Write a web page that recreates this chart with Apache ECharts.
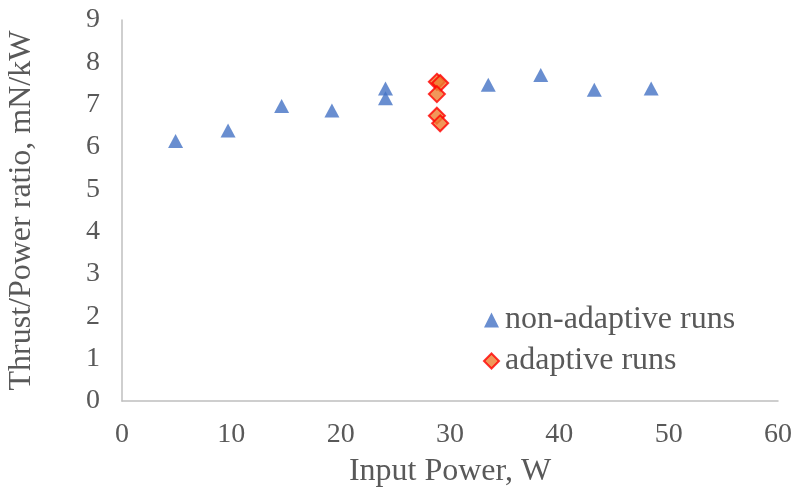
<!DOCTYPE html>
<html>
<head>
<meta charset="utf-8">
<script src="https://cdn.jsdelivr.net/npm/echarts@6/dist/echarts.min.js"></script>
<style>
html, body { margin: 0; padding: 0; background: #fff; }
#chart { width: 793px; height: 496px; }
</style>
</head>
<body>
<div id="chart"></div>
<script>
// values
var nonAdaptivePower = [4.9, 9.7, 14.6, 19.2, 24.1, 24.1, 33.5, 38.3, 43.2, 48.4];
var nonAdaptiveRatio = [6.14, 6.39, 6.97, 6.86, 7.38, 7.15, 7.47, 7.70, 7.35, 7.38];
var adaptivePower = [28.8, 29.1, 28.8, 28.8, 29.1];
var adaptiveRatio = [7.54, 7.51, 7.25, 6.74, 6.56];

var font = 'Liberation Serif';
var textColor = '#595959';

function pairs(xs, ys) {
    var out = [];
    for (var i = 0; i < xs.length; i++) {
        out.push([xs[i], ys[i]]);
    }
    return out;
}

var myChart = echarts.init(document.getElementById('chart'));
var option = {
    animation: false,
    grid: {
        left: 122,
        right: 15,
        top: 20,
        bottom: 95,
        outerBoundsMode: 'none'
    },
    legend: {
        orient: 'vertical',
        left: 478,
        top: 299,
        itemGap: 9,
        itemWidth: 15,
        itemHeight: 15,
        textStyle: { fontFamily: font, fontSize: 32, color: textColor, padding: [0, 0, 0, 1] },
        data: ['non-adaptive runs', 'adaptive runs']
    },
    xAxis: {
        type: 'value',
        min: 0,
        max: 60,
        interval: 10,
        name: 'Input Power, W',
        nameLocation: 'middle',
        nameGap: 55,
        nameTextStyle: { fontFamily: font, fontSize: 32, color: textColor },
        axisLine: { lineStyle: { color: '#bfbfbf', width: 1.5 } },
        axisTick: { show: false },
        splitLine: { show: false },
        axisLabel: { fontFamily: font, fontSize: 28, color: textColor, margin: 20 }
    },
    yAxis: {
        type: 'value',
        min: 0,
        max: 9,
        interval: 1,
        name: 'Thrust/Power ratio, mN/kW',
        nameLocation: 'middle',
        nameRotate: 90,
        nameGap: 84,
        nameTextStyle: { fontFamily: font, fontSize: 32, color: textColor },
        axisLine: { show: true, lineStyle: { color: '#bfbfbf', width: 1.5 } },
        axisTick: { show: false },
        splitLine: { show: false },
        axisLabel: { fontFamily: font, fontSize: 28, color: textColor, margin: 22 }
    },
    series: [
        {
            name: 'non-adaptive runs',
            type: 'scatter',
            symbol: 'triangle',
            symbolSize: [15, 14],
            itemStyle: { color: '#4472c4' },
            data: pairs(nonAdaptivePower, nonAdaptiveRatio)
        },
        {
            name: 'adaptive runs',
            type: 'scatter',
            symbol: 'diamond',
            symbolSize: 16,
            itemStyle: { color: '#ed7d31', borderColor: '#ff0000', borderWidth: 2 },
            data: pairs(adaptivePower, adaptiveRatio)
        }
    ]
};
myChart.setOption(option);
</script>
</body>
</html>
